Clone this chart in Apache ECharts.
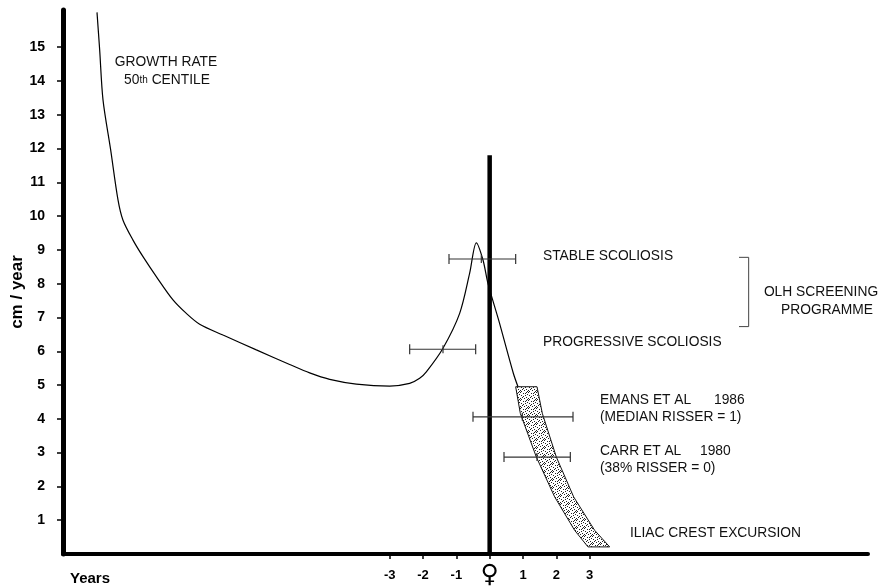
<!DOCTYPE html>
<html>
<head>
<meta charset="utf-8">
<script src="https://cdn.jsdelivr.net/npm/echarts@6/dist/echarts.min.js"></script>
<style>
  html, body { margin: 0; padding: 0; background: #fff; }
  #main { width: 881px; height: 587px; background-color: #fff; }
</style>
</head>
<body>
<div id="main"></div>
<script>
// growth rate, 50th centile (years relative to menarche, cm / year)
var growthX = [-11.78, -11.7, -11.6, -11.37, -11.15, -11.0, -10.7, -10.4, -10.0, -9.5,
  -9.1, -8.7, -8.0, -7.0, -6.0, -5.4, -4.8, -4.0, -3.0, -2.4,
  -2.1, -1.9, -1.4, -0.9, -0.6, -0.4, -0.2, -0.05, 0.27, 0.71, 0.85];
var growthY = [16.03, 14.92, 13.44, 11.96, 10.48, 9.88, 9.29, 8.8, 8.21, 7.52,
  7.12, 6.8, 6.48, 6.04, 5.61, 5.36, 5.17, 5.03, 4.97, 5.05,
  5.2, 5.39, 6.09, 7.12, 8.31, 9.21, 8.7, 8.0, 6.92, 5.35, 4.95];

// iliac crest excursion band
var bandY = [4.95, 4.16, 2.87, 1.69, 0.70, 0.21];
var bandLeftX = [0.78, 0.92, 1.40, 1.95, 2.55, 2.95];
var bandRightX = [1.42, 1.58, 2.0, 2.52, 3.15, 3.6];

// horizontal ranges: stable, progressive, emans, carr
var barY = [8.73, 6.06, 4.06, 2.87];
var barLow = [-1.22, -2.4, -0.5, 0.43];
var barHigh = [0.78, -0.42, 2.5, 2.42];
var barMid = [-0.25, -1.4, 0.98, 1.42];

// menarche line and OLH bracket
var menarcheTop = 11.8;
var bracketX = [7.48, 7.77, 7.77, 7.48];
var bracketY = [8.78, 8.78, 6.73, 6.73];

var yTicks = [1, 2, 3, 4, 5, 6, 7, 8, 9, 10, 11, 12, 13, 14, 15];
var xTicks = [-3, -2, -1, 0, 1, 2, 3];

var font = "'Liberation Sans', Arial, sans-serif";
var note = '13.8px ' + font;

// stipple texture for the band
function stipple() {
  var c = document.createElement('canvas');
  c.width = 8; c.height = 8;
  var ctx = c.getContext('2d');
  ctx.fillStyle = '#fff';
  ctx.fillRect(0, 0, 8, 8);
  ctx.fillStyle = '#222';
  var dots = [[0,0],[3,1],[6,0],[1,3],[5,3],[7,2],[2,5],[4,6],[6,5],[0,6],[3,4],[7,7],[1,7],[5,1]];
  dots.forEach(function (d) { ctx.fillRect(d[0], d[1], 1, 1); });
  return c;
}

var growthData = growthX.map(function (x, i) { return [x, growthY[i]]; });
var bandData = bandLeftX.map(function (x, i) { return [x, bandY[i], bandRightX[i]]; });
var barData = barY.map(function (y, i) { return [barLow[i], barHigh[i], barMid[i], y]; });
var bracketData = bracketX.map(function (x, i) { return [x, bracketY[i]]; });

var chart = echarts.init(document.getElementById('main'));
var texture = stipple();

var option = {
  animation: false,
  grid: { left: 63, right: 13, top: 10, bottom: 33, outerBoundsMode: 'none' },
  xAxis: {
    type: 'value',
    min: -12.8,
    max: 11.35,
    axisLine: { onZero: false, lineStyle: { color: '#000', width: 4 } },
    axisTick: { customValues: xTicks, length: 5, lineStyle: { color: '#000', width: 1.5 } },
    axisLabel: {
      customValues: xTicks,
      margin: 15,
      color: '#000',
      fontFamily: font,
      fontWeight: 'bold',
      fontSize: 13,
      formatter: function (v) { return v === 0 ? '{f|♀}' : String(v); },
      rich: { f: { fontSize: 25, fontWeight: 'bold', fontFamily: "'DejaVu Sans', sans-serif", color: '#000', padding: [-6, 0, 0, 0] } }
    },
    splitLine: { show: false }
  },
  yAxis: {
    type: 'value',
    min: 0,
    max: 16.1,
    axisLine: { show: true, onZero: false, lineStyle: { color: '#000', width: 5 } },
    axisTick: { show: true, customValues: yTicks, length: 6, lineStyle: { color: '#000', width: 1.5 } },
    axisLabel: { customValues: yTicks, margin: 18, color: '#000', fontFamily: font, fontWeight: 'bold', fontSize: 14 },
    splitLine: { show: false }
  },
  series: [
    {
      name: 'band',
      type: 'custom',
      z: 2,
      data: bandData,
      renderItem: function (params, api) {
        if (params.dataIndex !== 0) return;
        var pts = [];
        var i;
        for (i = 0; i < bandData.length; i++) pts.push(api.coord([bandData[i][0], bandData[i][1]]));
        for (i = bandData.length - 1; i >= 0; i--) pts.push(api.coord([bandData[i][2], bandData[i][1]]));
        return {
          type: 'polygon',
          shape: { points: pts, smooth: 0 },
          style: { fill: { image: texture, repeat: 'repeat' }, stroke: '#111', lineWidth: 1 }
        };
      }
    },
    {
      name: 'growth',
      type: 'line',
      z: 3,
      data: growthData,
      smooth: 0.3,
      showSymbol: false,
      lineStyle: { color: '#000', width: 1.2 }
    },
    {
      name: 'menarche',
      type: 'line',
      z: 4,
      data: [[0, 0], [0, menarcheTop]],
      showSymbol: false,
      lineStyle: { color: '#000', width: 4.5 }
    },
    {
      name: 'ranges',
      type: 'custom',
      z: 5,
      data: barData,
      renderItem: function (params, api) {
        var y = api.value(3);
        var a = api.coord([api.value(0), y]);
        var b = api.coord([api.value(1), y]);
        var m = api.coord([api.value(2), y]);
        var st = { stroke: '#333', lineWidth: 1.2 };
        return {
          type: 'group',
          children: [
            { type: 'line', shape: { x1: a[0], y1: a[1], x2: b[0], y2: b[1] }, style: st },
            { type: 'line', shape: { x1: a[0], y1: a[1] - 5, x2: a[0], y2: a[1] + 5 }, style: st },
            { type: 'line', shape: { x1: b[0], y1: b[1] - 5, x2: b[0], y2: b[1] + 5 }, style: st },
            { type: 'line', shape: { x1: m[0], y1: m[1] - 4, x2: m[0], y2: m[1] + 4 }, style: st }
          ]
        };
      }
    },
    {
      name: 'bracket',
      type: 'line',
      z: 3,
      data: bracketData,
      showSymbol: false,
      lineStyle: { color: '#444', width: 1 }
    }
  ],
  graphic: [
    { type: 'text', x: 17, y: 292, rotation: Math.PI / 2, style: { text: 'cm / year', font: 'bold 17px ' + font, fill: '#000', align: 'center', verticalAlign: 'middle' } },
    { type: 'text', x: 166, y: 62, style: { text: 'GROWTH RATE', font: note, fill: '#111', align: 'center', verticalAlign: 'middle' } },
    { type: 'text', x: 167, y: 80, style: { text: '50{s|th} CENTILE', font: note, fill: '#111', align: 'center', verticalAlign: 'middle', rich: { s: { fontSize: 10, fontFamily: font } } } },
    { type: 'text', x: 543, y: 256, style: { text: 'STABLE SCOLIOSIS', font: note, fill: '#111', verticalAlign: 'middle' } },
    { type: 'text', x: 543, y: 342, style: { text: 'PROGRESSIVE SCOLIOSIS', font: note, fill: '#111', verticalAlign: 'middle' } },
    { type: 'text', x: 821, y: 292, style: { text: 'OLH SCREENING', font: note, fill: '#111', align: 'center', verticalAlign: 'middle' } },
    { type: 'text', x: 827, y: 310, style: { text: 'PROGRAMME', font: note, fill: '#111', align: 'center', verticalAlign: 'middle' } },
    { type: 'text', x: 600, y: 400, style: { text: 'EMANS ET AL', font: note, fill: '#111', verticalAlign: 'middle' } },
    { type: 'text', x: 714, y: 400, style: { text: '1986', font: note, fill: '#111', verticalAlign: 'middle' } },
    { type: 'text', x: 600, y: 417, style: { text: '(MEDIAN RISSER = 1)', font: note, fill: '#111', verticalAlign: 'middle' } },
    { type: 'text', x: 600, y: 451, style: { text: 'CARR ET AL', font: note, fill: '#111', verticalAlign: 'middle' } },
    { type: 'text', x: 700, y: 451, style: { text: '1980', font: note, fill: '#111', verticalAlign: 'middle' } },
    { type: 'text', x: 600, y: 468, style: { text: '(38% RISSER = 0)', font: note, fill: '#111', verticalAlign: 'middle' } },
    { type: 'text', x: 630, y: 533, style: { text: 'ILIAC CREST EXCURSION', font: note, fill: '#111', verticalAlign: 'middle' } },
    { type: 'text', x: 70, y: 579, style: { text: 'Years', font: 'bold 15px ' + font, fill: '#000', verticalAlign: 'middle' } }
  ]
};

chart.setOption(option);
</script>
</body>
</html>
